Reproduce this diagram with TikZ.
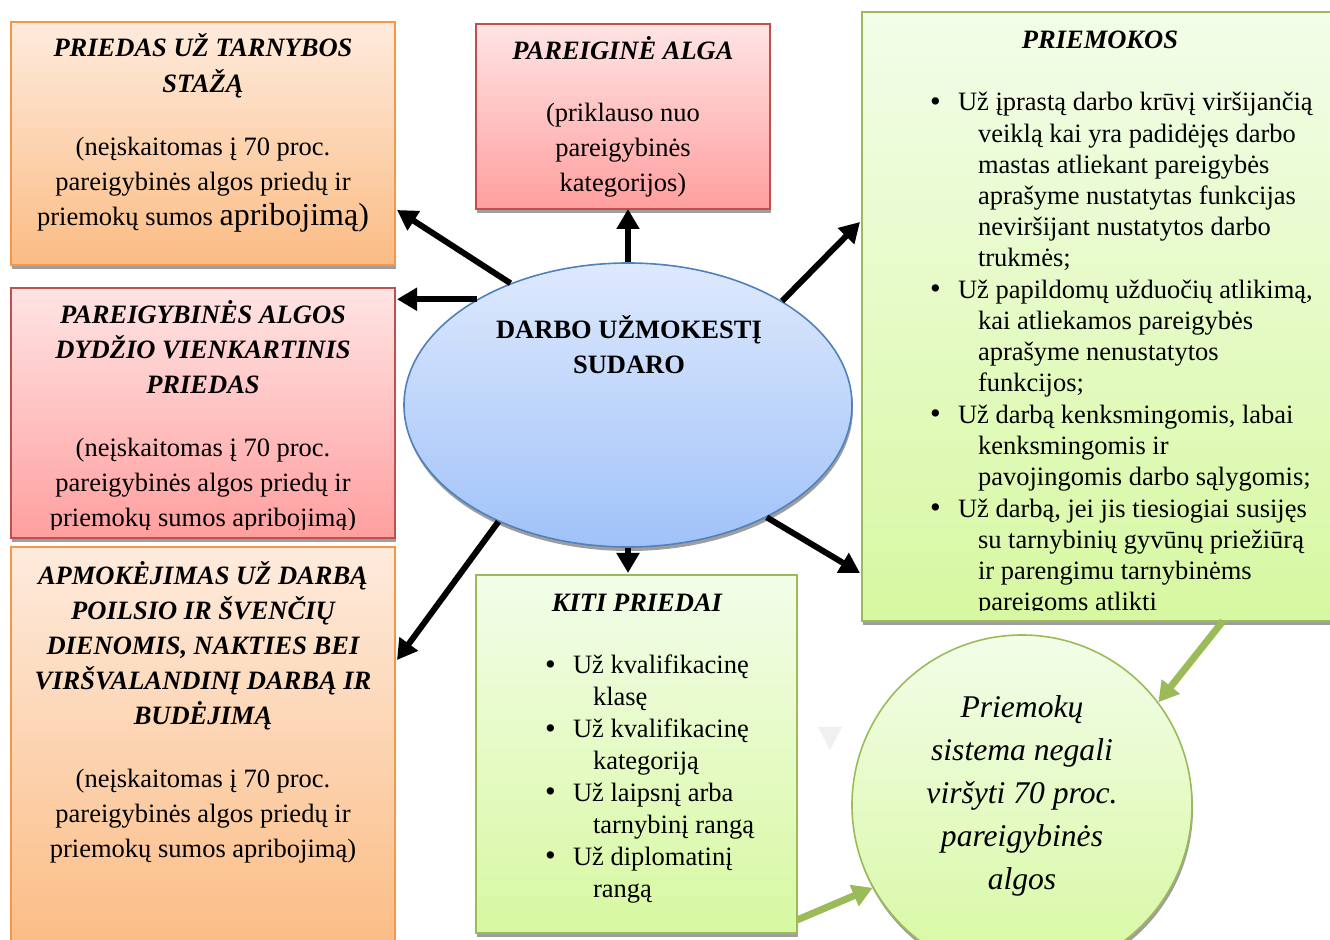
\documentclass[tikz,border=0pt]{standalone}
\usepackage{fontspec}
\setmainfont{Liberation Serif}
\usetikzlibrary{arrows.meta,shadows,shapes.geometric,calc}
\definecolor{orT}{HTML}{FEEBDD}
\definecolor{orB}{HTML}{FBBC84}
\definecolor{orD}{HTML}{F79646}
\definecolor{rdT}{HTML}{FFE4E4}
\definecolor{rdB}{HTML}{FF9F9F}
\definecolor{rdD}{HTML}{C0504D}
\definecolor{grT}{HTML}{F3FDE9}
\definecolor{grB}{HTML}{D7F8A1}
\definecolor{grD}{HTML}{9BBB59}
\definecolor{blT}{HTML}{DEE9FD}
\definecolor{blB}{HTML}{A0C2F9}
\definecolor{blD}{HTML}{4F81BD}
\newcommand\bulmark{\makebox[14pt][l]{\raisebox{-0.2pt}{\scalebox{1.15}{\textbullet}}}}
\begin{document}
\begin{tikzpicture}[x=0.5pt,y=-0.5pt,
  shd/.style={drop shadow={shadow xshift=0.5pt,shadow yshift=-2pt,fill=black!38,opacity=1}},
  boxbase/.style={anchor=north west,inner sep=0pt,outer sep=0pt,line width=0.8pt,shd},
  orbox/.style={boxbase,draw=orD,top color=orT,bottom color=orB},
  rdbox/.style={boxbase,draw=rdD,top color=rdT,bottom color=rdB},
  grbox/.style={boxbase,draw=grD,top color=grT,bottom color=grB},
  txt/.style={inner sep=0pt,outer sep=0pt,anchor=base,font=\fontsize{13.25pt}{17.5pt}\selectfont},
  ttl/.style={inner sep=0pt,outer sep=0pt,anchor=base,font=\fontsize{13.25pt}{18pt}\selectfont\bfseries\itshape},
  lst/.style={inner sep=0pt,outer sep=0pt,anchor=base west},
  blk/.style={line width=3pt,-{Triangle[length=10pt,width=11pt]}},
  grn/.style={draw=grD,line width=3.5pt,-{Triangle[length=10pt,width=11pt]}},
]
\useasboundingbox (0,0) rectangle (1330,940);
\clip (0,0) rectangle (1330,940);
\fill[white] (0,0) rectangle (1330,940);

% boxes
\node[orbox,minimum width=192pt,minimum height=121.5pt] (b1) at (11,22) {};
\node[rdbox,minimum width=192pt,minimum height=125pt] (b2) at (11,288) {};
\node[orbox,minimum width=192pt,minimum height=201.5pt] (b3) at (11,547) {};
\node[rdbox,minimum width=147pt,minimum height=92.5pt] (b4) at (476,24) {};
\node[grbox,minimum width=235pt,minimum height=304.5pt] (b5) at (862,12) {};
\node[grbox,minimum width=160.5pt,minimum height=179pt] (b6) at (476,575) {};

\node[ellipse,draw=blD,line width=0.8pt,top color=blT,bottom color=blB,minimum width=224pt,minimum height=142pt,inner sep=0pt,shd] (e) at (628,405) {};
\node[circle,draw=grD,line width=0.8pt,top color=grT,bottom color=grB,minimum size=170pt,inner sep=0pt,shd] (c) at (1022,805) {};

\fill[black!6] (818,727) -- (842,727) -- (830,750) -- cycle;

% texts
\node[ttl] (t1a) at (203,57) {\parbox[t]{190pt}{\centering PRIEDAS UŽ TARNYBOS\\STAŽĄ}};
\node[txt] (t1b) at (203,156) {\parbox[t]{190pt}{\centering (neįskaitomas į 70 proc.\\pareigybinės algos priedų ir\\priemokų sumos {\fontsize{16pt}{17.5pt}\selectfont apribojimą)}}};

\node[ttl] (t2a) at (203,324) {\parbox[t]{190pt}{\centering\baselineskip=17.5pt PAREIGYBINĖS ALGOS\\DYDŽIO VIENKARTINIS\\PRIEDAS}};
\begin{scope}
\clip (b2.north west) rectangle ([yshift=4pt]b2.south east);
\node[txt] (t2b) at (203,457) {\parbox[t]{190pt}{\centering (neįskaitomas į 70 proc.\\pareigybinės algos priedų ir\\priemokų sumos apribojimą)}};
\end{scope}

\node[ttl] (t3a) at (203,585) {\parbox[t]{190pt}{\centering\baselineskip=17.5pt APMOKĖJIMAS UŽ DARBĄ\\POILSIO IR ŠVENČIŲ\\DIENOMIS, NAKTIES BEI\\VIRŠVALANDINĮ DARBĄ IR\\BUDĖJIMĄ}};
\node[txt] (t3b) at (203,788) {\parbox[t]{190pt}{\centering (neįskaitomas į 70 proc.\\pareigybinės algos priedų ir\\priemokų sumos apribojimą)}};

\node[ttl] (t4a) at (623,60) {PAREIGINĖ ALGA};
\node[txt] (t4b) at (623,122) {\parbox[t]{145pt}{\centering (priklauso nuo\\pareigybinės\\kategorijos)}};

\node[ttl] (t5a) at (1100,49) {PRIEMOKOS};
\begin{scope}
\clip (b5.north west) rectangle ([yshift=5pt]b5.south east);
\node[lst] (t5b) at (930,111) {\fontsize{13.25pt}{15.55pt}\selectfont\parbox[t]{200pt}{\parindent=0pt\parskip=0.3pt
\hangindent=24pt\hangafter=1\bulmark Už įprastą darbo krūvį viršijančią\newline veiklą kai yra padidėjęs darbo\newline mastas atliekant pareigybės\newline aprašyme nustatytas funkcijas\newline neviršijant nustatytos darbo\newline trukmės;\par
\hangindent=24pt\hangafter=1\bulmark Už papildomų užduočių atlikimą,\newline kai atliekamos pareigybės\newline aprašyme nenustatytos\newline funkcijos;\par
\hangindent=24pt\hangafter=1\bulmark Už darbą kenksmingomis, labai\newline kenksmingomis ir\newline pavojingomis darbo sąlygomis;\par
\hangindent=24pt\hangafter=1\bulmark Už darbą, jei jis tiesiogiai susijęs\newline su tarnybinių gyvūnų priežiūrą\newline ir parengimu tarnybinėms\newline pareigoms atlikti\par}};
\end{scope}

\node[ttl] (t6a) at (637,612) {KITI PRIEDAI};
\node[lst] (t6b) at (545,674) {\fontsize{13.25pt}{15.95pt}\selectfont\parbox[t]{150pt}{\parindent=0pt
\hangindent=24pt\hangafter=1\bulmark Už kvalifikacinę\newline klasę\par
\hangindent=24pt\hangafter=1\bulmark Už kvalifikacinę\newline kategoriją\par
\hangindent=24pt\hangafter=1\bulmark Už laipsnį arba\newline tarnybinį rangą\par
\hangindent=24pt\hangafter=1\bulmark Už diplomatinį\newline rangą\par}};

\node[txt,font=\fontsize{13.25pt}{17.5pt}\selectfont\bfseries] (te) at (629,339) {\parbox[t]{200pt}{\centering DARBO UŽMOKESTĮ\\SUDARO}};

\node[txt,font=\fontsize{15.8pt}{21.4pt}\selectfont\itshape] (tc) at (1022,718) {\parbox[t]{160pt}{\centering Priemokų\\sistema negali\\viršyti 70 proc.\\pareigybinės\\algos}};

% connectors
\draw[blk] (e.134.5) -- ([yshift=-33.25pt,xshift=1pt]b1.east);
\draw[blk] (e.145.5) -- ([xshift=1pt]e.145.5 -| b2.east);
\draw[blk] (e.north) -- (e.north |- b4.south);
\draw[blk] (e.34.6) -- ([yshift=47.25pt,xshift=-1pt]b5.west);
\draw[blk] (e.-39.5) -- ([yshift=-128.25pt,xshift=-1pt]b5.west);
\draw[blk] (e.south) -- ([yshift=1pt]e.south |- b6.north);
\draw[blk] (e.222) -- ([yshift=44.25pt,xshift=1pt]b3.east);
\draw[grn] ([xshift=63pt]b5.south) -- (c.37);
\draw[grn] ([yshift=-83pt]b6.east) -- (c.209);
\end{tikzpicture}
\end{document}
